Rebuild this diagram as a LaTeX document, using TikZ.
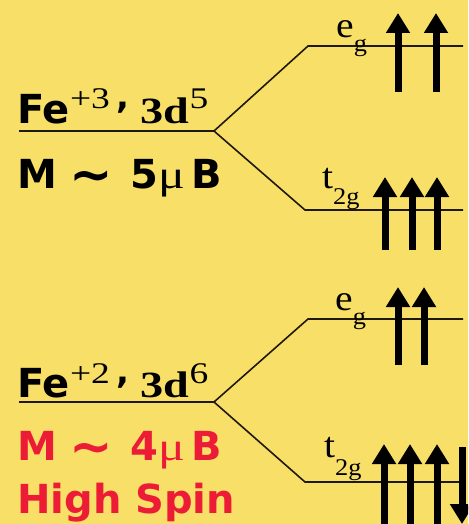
\documentclass[tikz,border=0pt]{standalone}
\usepackage{fontspec}
\usetikzlibrary{arrows.meta}

\newfontfamily\lblsans{DejaVu Sans}
\newfontfamily\lblserif[FakeStretch=1.25]{Liberation Serif}
\newfontfamily\lvlfont[FakeStretch=1.1]{Liberation Serif}
\newcommand\bigsans{\lblsans\bfseries\fontsize{40}{48}\selectfont}
\newcommand\supserif{\lblserif\fontsize{30}{36}\selectfont}
\newcommand\mainserif{\lblserif\bfseries\fontsize{37}{43}\selectfont}
\newcommand\lvlserif{\lvlfont\fontsize{36}{42}\selectfont}
\newcommand\subserif{\lvlfont\fontsize{24}{28}\selectfont}
\newcommand\muserif{\lblserif\fontsize{40}{46}\selectfont}
\newcommand\supcomma{{\lblsans\bfseries\fontsize{34}{40}\selectfont ,}}
\newcommand\bigtilde{\raisebox{-4pt}{\lblsans\bfseries\fontsize{52}{60}\selectfont\textasciitilde}}

\definecolor{bgyellow}{RGB}{248,224,104}
\definecolor{spinred}{RGB}{237,28,54}
\definecolor{levelink}{RGB}{30,25,10}

\tikzset{
  level/.style={draw=levelink, line width=1.6pt},
  spinarrow/.style={line width=7pt, -{Triangle[width=23pt,length=20pt]}},
  txt/.style={anchor=base west, inner sep=0pt},
}

\begin{document}
\begin{tikzpicture}[x=1pt, y=-1pt]

\useasboundingbox (0,0) rectangle (468,524);
\fill[bgyellow] (0,0) rectangle (468,524);
\clip (0,0) rectangle (468,524);

% Fe+3 levels
\coordinate (fe3) at (19,131);
\coordinate (split3) at (214,131);
\coordinate (eg3a) at (308,46);
\coordinate (eg3b) at (463,46);
\coordinate (tg3a) at (305,210);
\coordinate (tg3b) at (463,210);

\draw[level] (fe3) -- (split3);
\draw[level] (split3) -- (eg3a) -- (eg3b);
\draw[level] (split3) -- (tg3a) -- (tg3b);

% Fe+2 levels
\coordinate (fe2) at (19,402);
\coordinate (split2) at (214,402);
\coordinate (eg2a) at (308,319);
\coordinate (eg2b) at (463,319);
\coordinate (tg2a) at (305,482);
\coordinate (tg2b) at (463,482);

\draw[level] (fe2) -- (split2);
\draw[level] (split2) -- (eg2a) -- (eg2b);
\draw[level] (split2) -- (tg2a) -- (tg2b);

% labels
\node[txt] (ion3) at (17,123) {{\bigsans Fe}\raisebox{14pt}{\supserif +3\hspace{7pt}\supcomma}\hspace{11pt}{\mainserif 3d}\raisebox{14pt}{\supserif 5}};
\node[txt] (mom3) at (17,188) {{\bigsans M}\hspace{12pt}\bigtilde\hspace{18pt}{\bigsans 5}{\muserif μ}\hspace{6pt}{\bigsans B}};

\node[txt] (ion2) at (17,397) {{\bigsans Fe}\raisebox{14pt}{\supserif +2\hspace{7pt}\supcomma}\hspace{11pt}{\mainserif 3d}\raisebox{14pt}{\supserif 6}};
\node[txt, text=spinred] (mom2) at (17,460) {{\bigsans M}\hspace{12pt}\bigtilde\hspace{18pt}{\bigsans 4}{\muserif μ}\hspace{6pt}{\bigsans B}};
\node[txt, text=spinred] (hs2) at (17,513) {\bigsans High Spin};

\node[txt] (eg3) at (336,38) {\lvlserif e\raisebox{-14pt}{\subserif g}};
\node[txt] (tg3) at (322,188) {\lvlserif t\raisebox{-16pt}{\subserif 2g}};
\node[txt] (eg2) at (335,310) {\lvlserif e\raisebox{-14pt}{\subserif g}};
\node[txt] (tg2) at (324,457) {\lvlserif t\raisebox{-18pt}{\subserif 2g}};

% spins
\foreach \x in {398,436} \draw[spinarrow] (\x,92) -- (\x,13);
\foreach \x in {385,412,437} \draw[spinarrow] (\x,250) -- (\x,177);
\foreach \x in {398,424} \draw[spinarrow] (\x,365) -- (\x,287);
\foreach \x in {384,410,437} \draw[spinarrow] (\x,530) -- (\x,444);
\draw[spinarrow] (462,447) -- (462,524);

\end{tikzpicture}
\end{document}
